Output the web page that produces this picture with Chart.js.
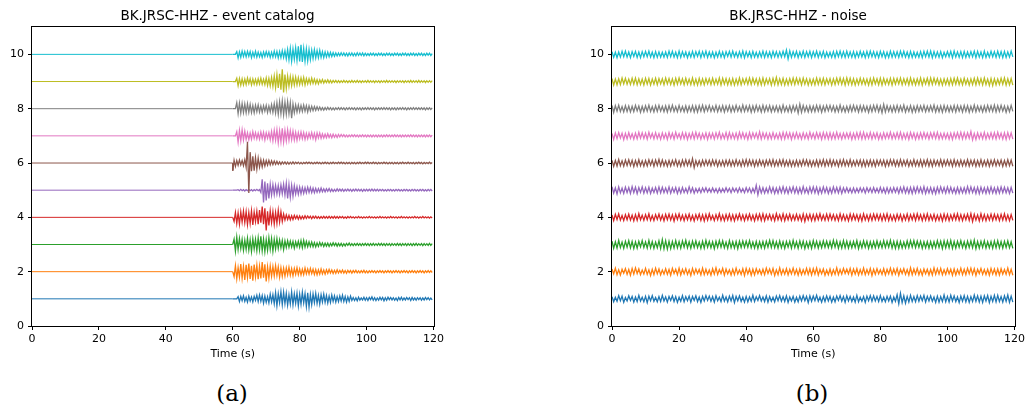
<!DOCTYPE html>
<html>
<head>
<meta charset="utf-8">
<script src="https://cdn.jsdelivr.net/npm/chart.js@4.4.1/dist/chart.umd.min.js"></script>
<style>
    body { margin: 0; background: #fff; width: 1026px; height: 409px; position: relative; overflow: hidden; }
    canvas { position: absolute; top: 0; }
    #chartA { left: 0; }
    #chartB { left: 580px; }
    .cap { position: absolute; top: 380px; width: 60px; text-align: center; font-family: "DejaVu Serif", serif; font-size: 23px; color: #000; }
</style>
</head>
<body>
<canvas id="chartA" width="447" height="370"></canvas>
<canvas id="chartB" width="448" height="370"></canvas>
<div class="cap" style="left:202px">(a)</div>
<div class="cap" style="left:782px">(b)</div>
<script>
const titles = ['BK.JRSC-HHZ - event catalog', 'BK.JRSC-HHZ - noise'];
const xLabel = 'Time (s)';
const xTicks = [0, 20, 40, 60, 80, 100, 120];
const yTicks = [0, 2, 4, 6, 8, 10];
const traceLevels = [1, 2, 3, 4, 5, 6, 7, 8, 9, 10];
const traceColors = ['#1f77b4', '#ff7f0e', '#2ca02c', '#d62728', '#9467bd', '#8c564b', '#e377c2', '#7f7f7f', '#bcbd22', '#17becf'];

// event traces: samples every 0.4 s from 60 s, amplitude in hundredths
const eventStart = 60;
const eventStep = 0.4;
const ev1 = [0,0,0,0,8,-10,9,-7,11,-9, 6,-12,10,-8,7,-11,9,-6,13,-10, 14,-9,12,-16,10,-13,8,-15,17,-11, 15,-18,22,-25,19,-14,26,-21,24,-17,
    20,-23,15,-19,25,-22,18,-16,21,-26, 17,-20,24,-15,19,-28,22,-30,16,-21, 18,-14,20,-17,13,-19,15,-12,17,-13, 12,-15,10,-13,14,-9,11,-12,8,-10,
    11,-8,13,-10,9,-12,7,-9,10,-6, 5,-6,4,-7,6,-5,3,-4,6,-5, 4,-6,5,-3,7,-5,4,-6,3,-5, 6,-4,5,-7,4,-5,6,-3,5,-4,
    4,-5,3,-6,5,-4,6,-5,3,-4, 5,-3,4,-6,5,-4,3,-5,4,-3, 4,-5,3,-4,5,-3,4,-4,3,-4];
const ev2 = [0,-18,22,-26,15,-20,28,-24,19,-30, 25,-21,30,-27,22,-33,26,-19,24,-28, 20,-25,35,-22,27,-36,18,-24,21,-17, 19,-16,22,-14,18,-20,15,-17,13,-16,
    14,-12,16,-13,11,-15,12,-10,14,-11, 10,-12,9,-11,13,-8,10,-9,12,-7, 9,-10,8,-11,7,-9,10,-8,6,-9, 7,-6,8,-5,6,-7,5,-6,7,-5,
    5,-4,6,-5,4,-6,5,-3,4,-5, 4,-3,5,-4,3,-4,4,-3,5,-4, 3,-4,3,-3,4,-3,3,-4,3,-3, 4,-3,3,-4,3,-3,4,-3,3,-4,
    3,-3,4,-3,3,-4,3,-3,4,-3, 3,-4,3,-3,4,-3,3,-4,3,-3, 4,-3,3,-4,3,-3,4,-3,3,-3];
const ev3 = [0,20,-24,27,-18,22,-15,19,-21,16, -18,23,-20,17,-25,21,-16,19,-22,24, -19,30,-23,20,-26,18,-21,25,-17,22, -24,19,-16,21,-14,17,-12,15,-18,13,
    -11,14,-10,12,-9,11,-13,10,-8,12, -10,14,-12,15,-9,11,-8,10,-7,9, -8,7,-9,6,-7,8,-5,6,-7,5, -6,5,-7,4,-5,6,-4,5,-6,4,
    -5,4,-6,3,-5,4,-3,5,-4,3, -4,3,-3,4,-3,3,-4,3,-3,4, -3,3,-4,3,-3,4,-3,3,-3,4, -3,4,-3,3,-4,3,-3,3,-4,3,
    -3,3,-3,4,-3,3,-4,3,-3,3, -4,3,-3,3,-4,3,-3,4,-3,3, -3,3,-4,3,-3,3,-3,4,-3,3];
const ev4 = [0,-15,18,-22,16,-25,20,-17,23,-19, 21,-26,18,-22,24,-28,19,-16,22,-25, 27,-20,40,-25,33,-48,22,-30,24,-19, 21,-25,18,-22,26,-17,20,-15,12,-10,
    9,-8,7,-9,6,-8,7,-5,6,-7, 5,-6,4,-5,6,-4,5,-3,4,-5, 4,-3,4,-4,3,-4,3,-3,4,-3, 3,-3,4,-3,3,-3,4,-3,3,-3,
    3,-2,3,-3,2,-3,3,-2,3,-2, 2,-3,2,-2,3,-2,2,-3,2,-2, 2,-2,3,-2,2,-2,2,-3,2,-2, 3,-2,2,-2,2,-3,2,-2,3,-2,
    2,-2,2,-3,2,-2,3,-2,2,-2, 2,-3,2,-2,2,-2,3,-2,2,-3, 2,-2,3,-2,2,-2,2,-3,2,-2];
const ev5 = [0,0,0,0,2,-2,3,-2,2,-3, 2,-2,3,-2,2,-3,2,-2,3,-2, 2,-8,40,-45,32,-38,25,-30,22,-18, 20,-16,18,-14,17,-15,19,-13,22,-18,
    25,-30,21,-26,18,-22,16,-14,12,-15, 11,-13,10,-12,9,-10,11,-8,10,-9, 8,-9,7,-8,6,-7,8,-6,5,-6, 5,-4,6,-5,4,-5,3,-4,5,-3,
    4,-3,4,-4,3,-3,4,-3,3,-4, 3,-3,4,-3,3,-3,3,-4,3,-3, 3,-3,3,-3,4,-3,3,-3,3,-3, 3,-2,3,-3,2,-3,3,-2,3,-3,
    2,-3,3,-2,3,-3,2,-3,3,-2, 3,-3,2,-3,3,-2,3,-3,2,-3, 3,-2,3,-3,2,-3,3,-2,3,-3];
const ev6 = [-28,10,-12,9,-8,11,-7,9,-10,12, -15,78,-110,40,-30,25,-28,20,-22,18, -15,12,-14,10,-11,9,-8,10,-7,8, -6,7,-5,6,-5,4,-5,4,-3,4,
    -4,3,-4,3,-3,4,-3,3,-2,3, -3,2,-3,2,-2,3,-2,3,-2,2, -3,2,-2,3,-2,2,-3,2,-2,3, -2,2,-3,2,-2,3,-2,2,-2,3,
    -2,3,-2,2,-3,2,-2,2,-3,2, -2,2,-3,2,-2,3,-2,2,-2,3, -2,3,-2,2,-2,3,-2,2,-3,2, -2,2,-2,3,-2,2,-3,2,-2,2,
    -3,2,-2,2,-3,2,-2,3,-2,2, -2,3,-2,2,-2,2,-3,2,-2,3, -2,2,-3,2,-2,2,-2,3,-2,2];
const ev7 = [0,0,0,15,-24,20,-18,22,-15,17, -13,11,-14,10,-12,15,-9,12,-11,10, -12,14,-10,13,-15,11,-9,12,-14,16, -18,20,-16,22,-25,19,-21,28,-23,20,
    -18,22,-16,19,-14,17,-15,13,-16,12, -11,14,-10,12,-13,9,-11,10,-8,12, -10,9,-14,11,-8,10,-9,7,-8,6, -7,8,-6,5,-7,6,-5,4,-6,5,
    -4,5,-3,4,-4,3,-4,3,-3,4, -3,4,-3,3,-4,3,-3,4,-3,3, -4,3,-3,3,-4,3,-3,3,-4,3, -3,3,-4,3,-3,4,-3,3,-3,3,
    -3,4,-3,3,-3,3,-4,3,-3,3, -3,3,-3,4,-3,3,-3,3,-4,3, -3,3,-3,3,-4,3,-3,3,-3,3];
const ev8 = [0,0,0,22,-18,20,-16,19,-14,17, -15,18,-13,16,-14,12,-15,13,-11,14, -12,10,-13,11,-9,12,-14,10,-12,15, -13,18,-16,22,-20,25,-18,28,-22,24,
    -20,26,-18,22,-35,17,-15,14,-12,13, -11,12,-10,13,-9,11,-12,10,-8,9, -7,8,-6,7,-5,6,-5,4,-5,4, -4,5,-3,4,-4,3,-4,3,-3,4,
    -3,4,-3,3,-4,3,-3,4,-3,3, -3,3,-4,3,-3,3,-4,3,-3,3, -3,4,-3,3,-3,3,-4,3,-3,3, -3,3,-3,4,-3,3,-3,3,-4,3,
    -3,3,-4,3,-3,3,-3,4,-3,3, -4,3,-3,3,-3,4,-3,3,-3,3, -3,3,-3,3,-4,3,-3,3,-3,3];
const ev9 = [0,0,0,12,-15,11,-13,10,-12,9, -11,13,-8,10,-12,9,-10,8,-11,10, -9,12,-10,8,-11,13,-14,12,-16,15, -18,20,-22,25,-24,28,-30,45,-40,26,
    -25,20,-17,18,-15,17,-13,16,-12,14, -11,13,-10,15,-12,11,-9,10,-8,12, -7,9,-8,7,-9,6,-5,7,-6,5, -4,6,-5,4,-5,4,-3,4,-4,3,
    -4,3,-3,4,-3,3,-4,3,-3,4, -3,3,-3,4,-3,3,-4,3,-3,3, -3,4,-3,3,-3,3,-4,3,-3,3, -4,3,-3,3,-3,4,-3,3,-3,3,
    -3,3,-4,3,-3,3,-3,3,-4,3, -3,3,-3,4,-3,3,-3,3,-3,4, -3,3,-3,3,-4,3,-3,3,-3,3];
const ev10 = [0,0,0,10,-13,9,-11,12,-8,10, -9,11,-7,10,-12,8,-9,11,-10,8, -9,7,-11,9,-8,10,-7,9,-11,8, -10,12,-9,11,-13,10,-12,14,-11,13,
    -16,18,-20,22,-25,20,-18,24,-22,30, -26,35,-28,22,-25,20,-24,18,-19,16, -15,17,-13,14,-12,15,-11,10,-12,9, -10,8,-9,7,-8,6,-7,5,-6,5,
    -5,6,-4,5,-5,4,-6,5,-4,5, -5,4,-5,6,-4,5,-4,5,-5,4, -4,3,-4,4,-3,4,-4,3,-4,4, -3,4,-4,3,-4,4,-3,4,-4,3,
    -4,4,-3,4,-4,3,-4,4,-3,4, -4,3,-4,4,-3,4,-4,3,-4,4, -3,4,-4,3,-4,4,-3,4,-4,3];

// noise traces: samples every 0.5 s from 0 s, amplitude in hundredths
const noiseStep = 0.5;
const nz1 = [8,-11,6,-9,12,-7,10,-13,5,-8, 11,-6,9,-12,7,-10,13,-8,6,-11, 9,-14,10,-7,12,-9,5,-11,8,-10, 13,-8,7,-12,9,-6,11,-10,8,-13,
    6,-9,12,-11,8,-7,10,-12,9,-6, 11,-10,7,-13,9,-8,12,-6,10,-9, 8,-12,11,-7,6,-10,13,-9,7,-11, 10,-8,12,-14,9,-7,11,-10,6,-12,
    9,-11,7,-9,13,-10,8,-6,12,-8, 7,-10,11,-12,8,-9,6,-11,10,-7, 12,-9,8,-10,11,-13,7,-8,9,-12, 6,-11,10,-8,12,-7,9,-14,11,-9,
    10,-7,13,-9,6,-12,8,-10,11,-8, 9,-12,7,-11,10,-6,12,-9,8,-13, 11,-8,9,-10,7,-12,13,-11,6,-9, 8,-13,10,-7,12,-9,11,-8,9,-10,
    12,-10,6,-11,9,-8,10,-13,7,-9, 15,-18,20,-14,11,-16,9,-12,13,-10, 8,-11,12,-9,10,-7,13,-12,9,-8, 11,-9,7,-13,10,-12,8,-10,14,-11,
    9,-12,13,-8,11,-10,7,-14,10,-9, 12,-11,9,-13,8,-10,14,-9,11,-12, 10,-13,11,-8,12,-14,9,-10,13,-11, 13,-10,8,-12,11,-9,14,-13,10,-12];
const nz2 = [10,-8,13,-11,7,-12,9,-6,11,-10, 8,-13,12,-9,14,-7,10,-11,6,-9, 12,-10,7,-14,9,-11,13,-8,10,-12, 6,-9,11,-10,8,-13,12,-7,9,-11,
    13,-12,9,-8,11,-10,7,-14,12,-9, 10,-7,8,-12,13,-11,9,-10,6,-13, 11,-9,14,-10,8,-7,12,-13,10,-8, 7,-12,9,-11,13,-9,6,-10,11,-14,
    12,-8,10,-13,9,-12,11,-7,8,-10, 9,-11,13,-7,10,-9,12,-14,7,-11, 14,-10,8,-9,11,-12,9,-8,13,-10, 8,-13,10,-11,7,-9,12,-10,11,-12,
    11,-9,13,-12,9,-8,10,-13,6,-11, 10,-12,7,-10,14,-11,8,-9,12,-7, 9,-8,12,-13,10,-9,11,-12,8,-10, 13,-11,8,-9,12,-14,9,-10,11,-8,
    7,-10,11,-12,9,-8,13,-11,10,-9, 12,-13,9,-7,11,-10,8,-12,14,-11, 10,-9,12,-11,7,-13,10,-8,9,-12, 8,-12,14,-10,11,-9,12,-11,7,-10,
    11,-8,9,-13,10,-12,8,-9,13,-11, 9,-11,12,-8,13,-10,11,-14,9,-7, 12,-10,8,-11,9,-13,12,-9,10,-12, 10,-12,11,-9,8,-10,13,-11,9,-13];
const nz3 = [12,-14,10,-13,15,-11,9,-14,12,-10, 14,-12,11,-15,10,-13,12,-9,14,-11, 10,-13,15,-12,11,-14,9,-12,13,-15, 18,-16,14,-17,12,-15,11,-13,14,-12,
    11,-14,13,-10,15,-12,10,-14,12,-11, 13,-11,9,-14,12,-13,15,-10,11,-12, 10,-15,12,-11,14,-10,13,-12,9,-14, 14,-12,10,-13,11,-15,12,-11,13,-10,
    12,-10,14,-12,9,-13,11,-14,10,-12, 11,-13,12,-10,15,-11,14,-12,10,-13, 13,-12,10,-14,11,-10,12,-13,15,-11, 10,-14,13,-11,12,-15,9,-12,11,-14,
    14,-11,12,-13,10,-12,13,-10,12,-11, 11,-12,15,-10,13,-14,10,-13,14,-12, 12,-13,10,-12,11,-11,14,-15,9,-12, 13,-10,12,-14,10,-13,11,-12,13,-11,
    10,-12,14,-11,12,-10,15,-13,11,-14, 12,-14,11,-13,9,-12,13,-11,14,-10, 14,-11,13,-10,12,-14,10,-12,11,-13, 11,-13,10,-12,14,-11,12,-15,13,-12,
    13,-12,15,-14,11,-13,12,-10,14,-11, 10,-14,12,-11,13,-12,16,-15,11,-13, 12,-11,14,-13,10,-12,11,-14,13,-12, 14,-12,11,-13,12,-11,13,-12,10,-14];
const nz4 = [9,-12,11,-8,13,-10,7,-12,10,-9, 12,-10,8,-13,10,-11,14,-9,8,-11, 10,-9,13,-11,7,-12,10,-8,12,-10, 8,-13,11,-9,12,-10,9,-14,11,-8,
    13,-10,8,-12,10,-9,12,-11,7,-13, 10,-8,12,-11,9,-13,11,-10,13,-9, 7,-12,10,-9,14,-11,8,-12,10,-10, 12,-11,9,-13,10,-8,13,-10,9,-12,
    10,-9,12,-10,8,-13,11,-9,12,-11, 13,-12,10,-8,11,-10,9,-12,14,-9, 9,-11,13,-12,10,-9,12,-11,8,-10, 11,-10,8,-13,12,-15,10,-9,11,-12,
    10,-12,11,-9,13,-10,8,-11,12,-10, 12,-9,10,-11,9,-12,13,-10,10,-11, 8,-13,12,-10,11,-9,10,-12,9,-13, 13,-10,9,-12,10,-11,12,-9,11,-10,
    10,-12,11,-10,13,-12,9,-11,8,-12, 11,-9,10,-13,9,-10,12,-12,10,-9, 12,-11,13,-9,10,-12,11,-10,13,-11, 9,-10,11,-12,8,-11,10,-13,12,-10,
    11,-12,9,-10,12,-9,13,-11,10,-12, 10,-9,12,-11,14,-15,11,-10,9,-13, 13,-11,10,-12,9,-10,12,-11,11,-9, 10,-12,11,-10,13,-11,9,-12,10,-11];
const nz5 = [13,-11,9,-14,12,-10,8,-12,11,-9, 10,-12,13,-9,11,-13,10,-8,12,-11, 9,-10,11,-12,8,-9,10,-11,12,-10, 11,-9,8,-10,12,-11,9,-8,10,-12,
    8,-11,10,-9,7,-10,12,-8,9,-11, 6,-8,7,-9,8,-6,9,-7,6,-8, 8,-7,6,-9,7,-8,6,-7,9,-6, 7,-9,8,-6,7,-8,9,-7,6,-9,
    9,-7,8,-10,7,-9,18,-17,12,-10, 9,-11,8,-10,12,-9,10,-12,8,-11, 11,-9,13,-10,9,-12,10,-8,12,-10, 10,-12,9,-11,13,-10,8,-12,11,-9,
    12,-10,11,-13,9,-11,12,-9,10,-12, 8,-11,12,-9,10,-10,11,-12,9,-8, 9,-8,7,-10,8,-9,7,-8,9,-7, 8,-10,9,-7,8,-9,10,-8,7,-9,
    10,-9,8,-11,9,-10,8,-9,10,-8, 9,-11,10,-9,12,-10,9,-11,10,-12, 11,-10,12,-9,10,-11,13,-12,9,-10, 10,-12,9,-13,11,-10,12,-9,10,-11,
    12,-9,11,-10,8,-12,10,-11,9,-10, 9,-11,13,-10,12,-9,10,-12,11,-13, 11,-10,9,-12,10,-11,12,-10,9,-12, 10,-11,12,-9,11,-10,9,-12,10,-11];
const nz6 = [10,-12,9,-11,13,-10,8,-12,11,-9, 12,-9,10,-13,9,-11,12,-10,8,-12, 9,-11,12,-8,10,-12,11,-9,13,-10, 11,-10,8,-12,9,-11,10,-8,12,-11,
    8,-12,11,-10,12,-9,10,-11,16,-17, 9,-10,8,-11,10,-9,11,-8,10,-10, 11,-8,10,-12,8,-10,9,-11,10,-9, 10,-11,9,-10,12,-9,8,-12,11,-10,
    12,-10,11,-9,10,-12,9,-10,11,-8, 9,-12,10,-8,11,-10,12,-11,9,-10, 11,-9,12,-11,9,-10,10,-12,8,-11, 10,-11,9,-10,12,-8,11,-10,9,-12,
    8,-10,11,-12,10,-9,12,-11,10,-9, 12,-11,10,-9,9,-12,11,-10,12,-10, 9,-10,12,-11,8,-10,10,-9,11,-12, 10,-12,9,-10,11,-11,9,-12,10,-8,
    11,-9,10,-12,9,-10,12,-8,11,-11, 9,-11,12,-10,10,-9,11,-12,8,-10, 12,-10,9,-11,11,-12,10,-9,12,-11, 10,-12,11,-9,9,-10,12,-11,10,-9,
    11,-9,10,-12,12,-10,9,-11,11,-10, 9,-10,12,-11,10,-9,11,-12,9,-11, 12,-11,9,-10,11,-12,10,-9,12,-10, 10,-9,11,-12,9,-11,12,-10,11,-12];
const nz7 = [9,-13,11,-10,12,-8,10,-14,9,-11, 12,-9,8,-12,10,-11,13,-9,11,-10, 10,-12,13,-8,9,-11,12,-10,8,-13, 11,-10,9,-13,12,-9,10,-12,13,-8,
    8,-11,12,-10,11,-13,9,-10,12,-11, 13,-9,10,-12,8,-10,11,-13,10,-9, 10,-12,11,-9,13,-11,8,-10,12,-12, 12,-10,9,-11,10,-12,13,-9,11,-10,
    9,-13,12,-10,11,-8,10,-11,15,-12, 11,-9,10,-12,9,-11,12,-10,8,-11, 10,-12,13,-11,12,-9,11,-13,10,-10, 12,-10,8,-12,11,-10,9,-12,13,-9,
    9,-11,12,-9,10,-13,12,-10,11,-12, 11,-12,10,-11,13,-10,9,-12,10,-9, 10,-9,11,-13,9,-11,12,-10,13,-12, 13,-11,9,-10,12,-12,10,-9,11,-13,
    8,-12,11,-10,10,-9,13,-11,9,-10, 12,-10,13,-12,9,-11,10,-13,12,-9, 10,-13,9,-11,11,-10,12,-9,10,-12, 11,-9,12,-10,13,-12,9,-11,10,-10,
    9,-12,10,-13,11,-9,12,-10,13,-11, 12,-10,11,-9,16,-15,9,-13,11,-10, 10,-11,13,-12,9,-10,11,-10,12,-11, 13,-9,10,-12,11,-13,12,-10,11,-12];
const nz8 = [12,-14,11,-9,13,-10,8,-12,11,-10, 10,-12,9,-11,12,-8,10,-13,9,-11, 11,-9,13,-10,8,-12,11,-10,12,-9, 9,-11,10,-12,11,-9,13,-10,8,-11,
    12,-10,8,-11,10,-12,9,-10,11,-12, 10,-12,11,-9,13,-11,10,-8,12,-10, 8,-10,12,-11,9,-10,11,-12,10,-9, 11,-12,9,-10,12,-9,8,-11,13,-10,
    10,-9,11,-13,10,-11,12,-9,9,-12, 12,-11,10,-9,11,-12,9,-10,10,-11, 9,-12,13,-10,8,-11,10,-12,11,-9, 11,-16,17,-13,12,-10,9,-12,10,-11,
    10,-11,12,-9,11,-13,10,-10,12,-8, 12,-9,10,-12,9,-11,13,-10,8,-12, 9,-11,11,-10,12,-9,10,-12,11,-10, 11,-10,9,-13,10,-11,12,-9,13,-11,
    10,-15,16,-12,11,-10,9,-12,10,-11, 12,-11,10,-9,13,-12,8,-10,11,-13, 9,-12,11,-10,10,-9,12,-11,9,-10, 11,-9,13,-12,9,-11,10,-13,12,-10,
    10,-11,9,-10,12,-12,11,-9,10,-12, 12,-10,11,-13,9,-10,13,-11,10,-9, 9,-12,10,-11,12,-9,11,-10,13,-12, 11,-10,12,-9,10,-13,9,-11,12,-10];
const nz9 = [11,-13,9,-12,10,-11,13,-9,12,-10, 9,-11,12,-10,13,-12,10,-11,9,-13, 12,-10,11,-13,9,-10,12,-12,11,-9, 10,-12,13,-9,11,-11,10,-13,12,-10,
    13,-9,10,-12,12,-10,9,-11,13,-12, 9,-13,12,-11,10,-12,11,-9,10,-11, 12,-11,9,-10,13,-13,12,-10,11,-12, 10,-12,11,-13,9,-11,13,-12,10,-9,
    11,-10,13,-11,12,-9,10,-13,11,-12, 13,-12,10,-9,11,-13,12,-11,15,-12, 10,-11,12,-13,9,-12,11,-10,13,-11, 12,-9,11,-12,13,-10,10,-13,9,-12,
    9,-12,13,-10,11,-11,12,-12,10,-9, 11,-13,10,-11,12,-9,13,-10,11,-13, 13,-10,12,-12,10,-13,9,-11,12,-10, 10,-11,9,-13,11,-12,13,-9,10,-12,
    12,-13,11,-10,9,-11,12,-13,11,-10, 11,-9,13,-12,10,-10,11,-12,13,-11, 9,-12,10,-11,13,-13,10,-9,12,-12, 13,-11,12,-9,11,-12,9,-13,10,-11,
    10,-13,11,-12,12,-10,13,-11,9,-12, 12,-10,9,-13,10,-11,12,-12,13,-10, 11,-12,13,-11,9,-14,11,-15,10,-12, 9,-11,12,-10,13,-13,10,-12,11,-13];
const nz10 = [10,-11,8,-12,9,-10,11,-9,12,-10, 9,-12,10,-8,11,-11,9,-12,10,-9, 11,-9,12,-10,8,-12,10,-11,9,-10, 8,-10,9,-11,12,-9,11,-10,8,-12,
    12,-11,10,-9,9,-12,8,-10,11,-11, 10,-8,11,-12,10,-9,12,-11,9,-10, 9,-12,8,-10,11,-10,9,-12,10,-8, 11,-10,12,-9,8,-11,10,-10,12,-12,
    10,-9,9,-12,11,-10,8,-11,9,-10, 12,-11,10,-10,9,-12,11,-9,10,-11, 9,-10,11,-9,16,-17,13,-11,10,-9, 11,-12,9,-10,12,-11,10,-9,11,-12,
    10,-9,12,-11,9,-10,11,-12,8,-10, 8,-11,10,-12,11,-9,12,-10,10,-11, 12,-10,9,-11,10,-12,9,-10,11,-9, 9,-12,11,-10,12,-9,10,-11,9,-12,
    11,-9,10,-12,8,-11,12,-10,10,-10, 10,-11,12,-9,11,-10,9,-12,11,-11, 9,-10,8,-11,10,-12,11,-9,12,-10, 12,-12,10,-10,9,-11,10,-12,8,-9,
    10,-9,11,-12,12,-10,9,-11,10,-12, 11,-11,9,-10,10,-9,12,-12,11,-10, 9,-12,12,-11,8,-10,11,-9,10,-11, 12,-10,10,-12,11,-11,9,-10,12,-9];

const eventTraces = [ev1, ev2, ev3, ev4, ev5, ev6, ev7, ev8, ev9, ev10];
const noiseTraces = [nz1, nz2, nz3, nz4, nz5, nz6, nz7, nz8, nz9, nz10];
const ampUnit = 0.01;

function eventPoints(arr, level) {
    const pts = [{x: 0, y: level}, {x: eventStart, y: level}];
    arr.forEach((v, i) => pts.push({x: eventStart + i * eventStep, y: level + v * ampUnit}));
    return pts;
}

function noisePoints(arr, level) {
    return arr.map((v, i) => ({x: i * noiseStep, y: level + v * ampUnit}));
}

const framePlugin = {
    id: 'frame',
    afterDraw(chart) {
        const a = chart.chartArea;
        const ctx = chart.ctx;
        ctx.save();
        ctx.strokeStyle = '#000';
        ctx.lineWidth = 1;
        ctx.strokeRect(Math.round(a.left) - 0.5, Math.round(a.top) - 0.5, Math.round(a.right - a.left) + 1, Math.round(a.bottom - a.top) + 1);
        ctx.restore();
    }
};

const tickFont = {family: 'DejaVu Sans', size: 11};
const titleFont = {family: 'DejaVu Sans', size: 13.5, weight: 'normal'};

function makeChart(canvasId, title, traces, builder, padRight) {
    new Chart(document.getElementById(canvasId), {
        type: 'line',
        data: {
            datasets: traces.map((arr, i) => ({
                data: builder(arr, traceLevels[i]),
                borderColor: traceColors[i],
                borderWidth: 1.3,
                // the flat stretch before the event is a thinner line
                segment: {borderWidth: ctx => ctx.p1.parsed.x <= eventStart && canvasId === 'chartA' ? 1 : 1.3},
                pointRadius: 0,
                tension: 0,
                order: 9 - i
            }))
        },
        options: {
            responsive: false,
            animation: false,
            events: [],
            layout: {padding: {left: 0, right: padRight, top: 0, bottom: 0}},
            plugins: {
                legend: {display: false},
                tooltip: {enabled: false},
                title: {display: true, text: title, color: '#000', font: titleFont, padding: {top: 8, bottom: 3}}
            },
            scales: {
                x: {
                    type: 'linear', min: 0, max: 120,
                    afterBuildTicks: s => { s.ticks = xTicks.map(v => ({value: v})); },
                    afterFit: s => { s.height = 44; },
                    grid: {drawOnChartArea: false, tickLength: 4, color: '#000'},
                    border: {display: false},
                    ticks: {color: '#000', font: tickFont, padding: 3, maxRotation: 0},
                    title: {display: true, text: xLabel, color: '#000', font: tickFont, padding: {top: 0, bottom: 9}}
                },
                y: {
                    type: 'linear', min: 0, max: 11,
                    afterBuildTicks: s => { s.ticks = yTicks.map(v => ({value: v})); },
                    afterFit: s => { s.width = 32; },
                    grid: {drawOnChartArea: false, tickLength: 4, color: '#000'},
                    border: {display: false},
                    ticks: {color: '#000', font: tickFont, padding: 4}
                }
            }
        },
        plugins: [framePlugin]
    });
}

makeChart('chartA', titles[0], eventTraces, eventPoints, 12);
makeChart('chartB', titles[1], noiseTraces, noisePoints, 12);
</script>
</body>
</html>
